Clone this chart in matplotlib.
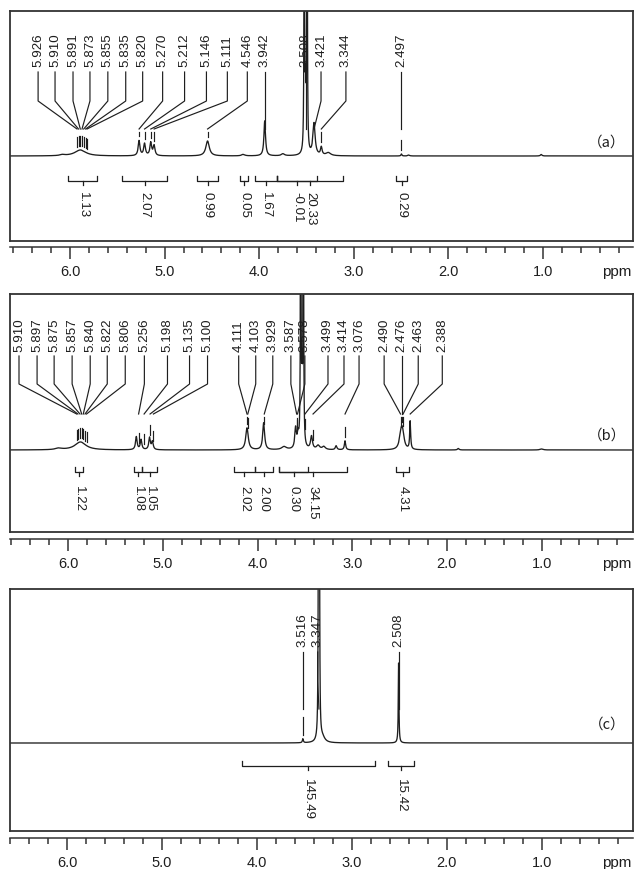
import numpy as np
import matplotlib
matplotlib.use("Agg")
import matplotlib.pyplot as plt

plt.rcParams['font.family'] = ['Liberation Sans', 'DejaVu Sans']
INK = "#1e1e1e"
W, H = 635, 870

# ---------------- panel (a) ----------------
a_pk_ppm = [6.08, 5.89, 5.270, 5.212, 5.146, 5.111, 4.546, 4.17, 3.942, 3.75,
            3.494, 3.510, 3.524, 3.421, 3.344, 3.27, 2.497, 2.42, 1.02]
a_pk_h = [1.0, 6, 15, 12, 13, 10, 15, 1.5, 35, 2,
          400, 60, 400, 32, 8, 3, 2, 1, 1.5]
a_pk_w = [0.03, 0.07, 0.011, 0.011, 0.011, 0.011, 0.022, 0.02, 0.010, 0.02,
          0.003, 0.006, 0.003, 0.014, 0.010, 0.03, 0.006, 0.01, 0.01]
a_labels = ["5.926", "5.910", "5.891", "5.873", "5.855", "5.835", "5.820",
            "5.270", "5.212", "5.146", "5.111", "4.546", "3.942", "3.508",
            "3.421", "3.344", "2.497"]
a_label_at = [6.337, 6.158, 5.968, 5.789, 5.600, 5.411, 5.232, 5.021, 4.789,
              4.558, 4.337, 4.126, 3.942, 3.508, 3.347, 3.084, 2.497]
a_int_start = [6.02, 5.45, 4.657, 4.203, 4.044, 3.812, 3.812, 2.554]
a_int_end = [5.715, 4.975, 4.436, 4.118, 3.812, 3.389, 3.114, 2.438]
a_int_val = ["1.13", "2.07", "0.99", "0.05", "1.67", "-0.01", "20.33", "0.29"]

# ---------------- panel (b) ----------------
b_pk_ppm = [6.10, 5.87, 5.28, 5.23, 5.14, 5.11, 4.111, 3.935, 3.72, 3.598,
            3.572, 3.516, 3.530, 3.544, 3.43, 3.36, 3.30, 3.17, 3.076,
            2.490, 2.476, 2.463, 2.388, 1.88, 1.0]
b_pk_h = [1.5, 8, 13, 10, 12, 8, 22, 27, 3, 20,
          12, 400, 60, 400, 13, 4, 3, 4, 9,
          8, 14, 8, 28, 1.5, 1]
b_pk_w = [0.04, 0.07, 0.010, 0.010, 0.010, 0.010, 0.016, 0.012, 0.03, 0.010,
          0.010, 0.003, 0.006, 0.003, 0.012, 0.02, 0.02, 0.01, 0.008,
          0.018, 0.018, 0.018, 0.006, 0.01, 0.02]
b_labels = ["5.910", "5.897", "5.875", "5.857", "5.840", "5.822", "5.806",
            "5.256", "5.198", "5.135", "5.100", "4.111", "4.103", "3.929",
            "3.587", "3.578", "3.499", "3.414", "3.076", "2.490", "2.476",
            "2.463", "2.388"]
b_label_at = [6.519, 6.328, 6.148, 5.958, 5.767, 5.587, 5.397, 5.195, 4.951,
              4.718, 4.528, 4.199, 4.019, 3.839, 3.648, 3.50, 3.256, 3.087,
              2.928, 2.663, 2.476, 2.303, 2.049]
b_int_start = [5.926, 5.301, 5.216, 4.252, 4.030, 3.775, 3.775, 2.536]
b_int_end = [5.841, 5.216, 5.057, 4.030, 3.839, 3.462, 3.055, 2.398]
b_int_val = ["1.22", "1.08", "1.05", "2.02", "2.00", "0.30", "34.15", "4.31"]

# ---------------- panel (c) ----------------
c_pk_ppm = [3.516, 3.343, 3.351, 3.31, 2.508]
c_pk_h = [4, 400, 400, 5, 80]
c_pk_w = [0.006, 0.003, 0.003, 0.03, 0.004]
c_labels = ["3.516", "3.347", "2.508"]
c_label_at = [3.516, 3.36, 2.508]
c_int_start = [4.158, 2.621]
c_int_end = [2.758, 2.347]
c_int_val = ["145.49", "15.42"]

MAJOR = [6.0, 5.0, 4.0, 3.0, 2.0, 1.0]


def spectrum(x, centers, heights, widths):
    y = np.zeros_like(x)
    for c, h, w in zip(centers, heights, widths):
        y += h / (1 + ((x - c) / w) ** 2)
    return y


def fx(px):
    return px / W


def fy(py):
    return 1 - py / H


def panel(box_top, box_bot, base, axis_y, xlim, tag, tag_y, pk, labels, label_at,
          ints, lv):
    ax = fig.add_axes([fx(10), fy(box_bot), fx(623), (box_bot - box_top) / H])
    ax.set_xlim(*xlim)
    ax.set_ylim(-(box_bot - base), base - box_top)
    ax.set_xticks([]); ax.set_yticks([])
    for s in ax.spines.values():
        s.set_color("#333333"); s.set_linewidth(1.3)

    x = np.linspace(0.0, 6.7, 10000)
    y = spectrum(x, *pk)
    ax.plot(x, y, color=INK, lw=0.95)

    # peak picking labels
    for txt, at in zip(labels, label_at):
        p = float(txt)
        h = np.interp(p, x, y)
        ax.text(at, lv[0], txt, rotation=90, ha="center", va="bottom",
                fontsize=9.6, color=INK)
        ax.plot([at, at, p], [lv[1], lv[2], lv[3]], color=INK, lw=0.85)
        tb = h + 4
        tt = min(tb + lv[4], lv[3] - 3)
        if tt > tb:
            ax.plot([p, p], [tb, tt], color=INK, lw=0.85)

    # integrals
    yb = lv[5]
    for s, e, v in zip(*ints):
        c = (s + e) / 2
        ax.plot([s, s, e, e], [yb + 5, yb, yb, yb + 5], color=INK, lw=0.9)
        ax.plot([c, c], [yb, yb - 4], color=INK, lw=0.9)
        ax.text(c, -35, v, rotation=270, ha="center", va="top", fontsize=9.6,
                color=INK)

    fig.text(fx(607), fy(tag_y), tag, ha="center", va="center", fontsize=10.5,
             family=["Noto Sans CJK SC", "DejaVu Sans"], color=INK)

    # ppm scale
    sax = fig.add_axes([fx(10), fy(axis_y), fx(623), 0.0001])
    sax.set_xlim(*xlim)
    sax.set_yticks([])
    for k in ("top", "left", "right"):
        sax.spines[k].set_visible(False)
    sax.spines["bottom"].set_color("#333333"); sax.spines["bottom"].set_linewidth(1.1)
    sax.set_xticks(MAJOR)
    sax.set_xticklabels([f"{m:.1f}" for m in MAJOR])
    sax.set_xticks(np.arange(0.2, 6.61, 0.2), minor=True)
    sax.tick_params(axis="x", which="major", length=8.5, width=1.1, pad=4,
                    labelsize=10.5, colors="#333333", labelcolor=INK)
    sax.tick_params(axis="x", which="minor", length=4.5, width=1.1, colors="#333333")
    fig.text(fx(631), fy(axis_y + 28), "ppm", ha="right", va="baseline",
             fontsize=11, color=INK)


fig = plt.figure(figsize=(W / 100, H / 100), dpi=100)

panel(12, 242, 157, 248, (6.634, 0.05), "（a）", 143,
      (a_pk_ppm, a_pk_h, a_pk_w), a_labels, a_label_at,
      (a_int_start, a_int_end, a_int_val), (90, 84, 55, 27, 10, -25))
panel(295, 533, 451, 540, (6.614, 0.035), "（b）", 436,
      (b_pk_ppm, b_pk_h, b_pk_w), b_labels, b_label_at,
      (b_int_start, b_int_end, b_int_val), (99, 94, 66, 36, 10, -22))
panel(590, 832, 744, 839, (6.60, 0.04), "（c）", 725,
      (c_pk_ppm, c_pk_h, c_pk_w), c_labels, c_label_at,
      (c_int_start, c_int_end, c_int_val), (97, 91, 62, 34, 18, -23))

fig.savefig("out.png", dpi=100, facecolor="white")
